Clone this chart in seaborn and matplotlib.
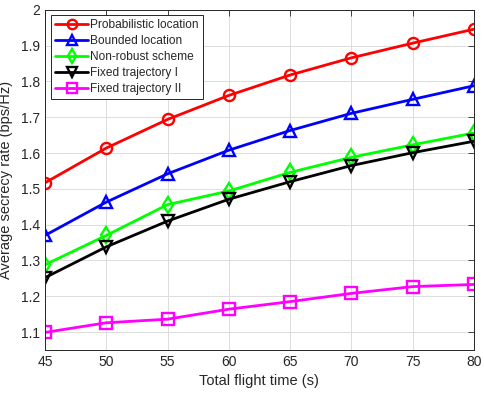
import matplotlib
matplotlib.use("Agg")
import matplotlib.pyplot as plt
import seaborn as sns
import pandas as pd

# Daten
flight_time = [45, 50, 55, 60, 65, 70, 75, 80]
prob_location = [1.517, 1.614, 1.694, 1.761, 1.818, 1.866, 1.907, 1.946]
bounded_location = [1.370, 1.463, 1.542, 1.608, 1.663, 1.711, 1.750, 1.788]
non_robust = [1.288, 1.370, 1.456, 1.494, 1.546, 1.588, 1.623, 1.656]
fixed_traj_1 = [1.252, 1.338, 1.410, 1.471, 1.520, 1.565, 1.601, 1.633]
fixed_traj_2 = [1.099, 1.126, 1.136, 1.164, 1.185, 1.208, 1.227, 1.233]

series_names = ["Probabilistic location", "Bounded location", "Non-robust scheme",
                "Fixed trajectory I", "Fixed trajectory II"]
series_values = [prob_location, bounded_location, non_robust, fixed_traj_1, fixed_traj_2]
colors = ["#ff0000", "#0000ff", "#00ff00", "#000000", "#ff00ff"]
markers = ["o", "^", "d", "v", "s"]

sns.set_style("white")
plt.rcParams["font.family"] = ["Liberation Sans", "DejaVu Sans"]

fig, ax = plt.subplots(figsize=(4.84, 3.95), dpi=100)
fig.subplots_adjust(left=0.093, right=0.979, top=0.975, bottom=0.114)

for name, vals, col, mk in zip(series_names, series_values, colors, markers):
    df = pd.DataFrame({"t": flight_time, "r": vals})
    sns.lineplot(data=df, x="t", y="r", ax=ax, color=col, marker=mk, label=name,
                 linewidth=2, markersize=8, markerfacecolor="none",
                 markeredgecolor=col, markeredgewidth=1.7)

ax.set_xlim(45, 80)
ax.set_ylim(1.05, 2.0)
ax.set_xticks(flight_time)
ax.set_yticks([1.1, 1.2, 1.3, 1.4, 1.5, 1.6, 1.7, 1.8, 1.9, 2.0])
ax.set_yticklabels(["1.1", "1.2", "1.3", "1.4", "1.5", "1.6", "1.7", "1.8", "1.9", "2"])
ax.set_xlabel("Total flight time (s)", fontsize=10.5, color="#262626")
ax.set_ylabel("Average secrecy rate (bps/Hz)", fontsize=10.5, color="#262626", labelpad=6)
ax.grid(True, color="#dcdcdc", linewidth=0.7)
ax.tick_params(direction="in", top=True, right=True, labelsize=10, colors="#262626",
               length=4, width=0.6)
for sp in ax.spines.values():
    sp.set_color("#262626")
    sp.set_linewidth(0.7)

leg = ax.legend(loc="upper left", fontsize=8.6, frameon=True, fancybox=False,
                edgecolor="#262626", framealpha=1, handlelength=2.75,
                borderpad=0.35, labelspacing=0.33, handletextpad=0.2,
                borderaxespad=0, bbox_to_anchor=(0.014, 0.985), markerscale=0.85)
leg.get_frame().set_linewidth(0.7)

fig.savefig("out.png", dpi=100)
